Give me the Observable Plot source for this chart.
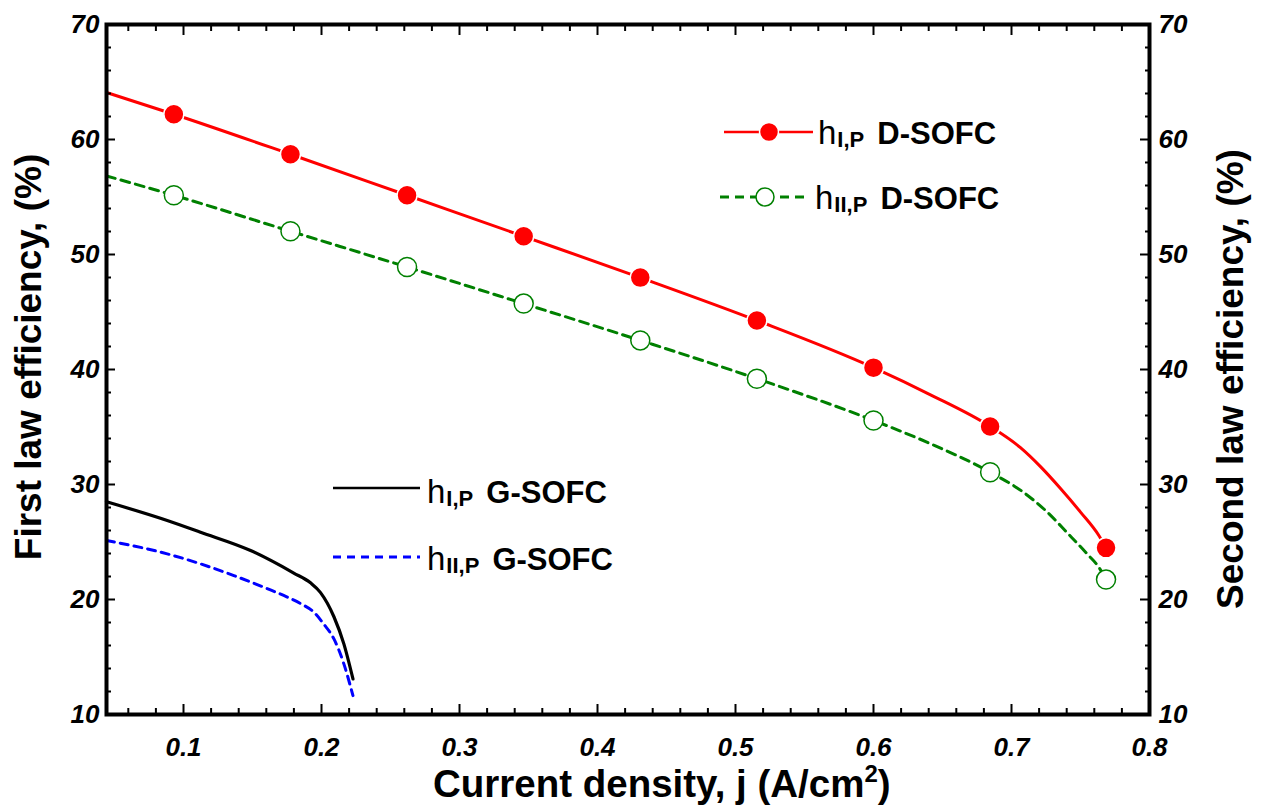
<!DOCTYPE html>
<html><head><meta charset="utf-8">
<script src="https://cdn.jsdelivr.net/npm/d3@7"></script>
<script src="https://cdn.jsdelivr.net/npm/@observablehq/plot@0.6"></script>
<style>body{margin:0;background:#fff}#chart{width:1265px;height:811px}</style>
</head><body><div id="chart"></div>
<script>
// ---- data ----
const xMin = 0.0442, xMax = 0.8;
const yMin = 10, yMax = 70;
const xTickLabels = [0.1, 0.2, 0.3, 0.4, 0.5, 0.6, 0.7, 0.8];
const yTickLabels = [10, 20, 30, 40, 50, 60, 70];

// D-SOFC marker points
const dMarkJ = [0.093, 0.1775, 0.262, 0.3465, 0.431, 0.5155, 0.600, 0.6845, 0.7685];
const dFirstMark = [62.2, 58.72, 55.15, 51.58, 47.99, 44.26, 40.16, 35.05, 24.49];
const dSecondMark = [55.15, 52.02, 48.91, 45.73, 42.53, 39.20, 35.57, 31.07, 21.73];

// D-SOFC curves
const dFirstJ = [0.0442, 0.093, 0.1775, 0.262, 0.3465, 0.431, 0.5155, 0.600, 0.6413, 0.6845, 0.7065, 0.721, 0.7355, 0.75, 0.7633, 0.7685];
const dFirstV = [64.09, 62.2, 58.72, 55.15, 51.58, 47.99, 44.26, 40.16, 37.8, 35.05, 33.2, 31.55, 29.65, 27.6, 25.56, 24.49];
const dSecondJ = [0.0442, 0.093, 0.1775, 0.262, 0.3465, 0.431, 0.5155, 0.600, 0.6413, 0.6845, 0.7089, 0.7259, 0.7404, 0.7549, 0.7633, 0.7685];
const dSecondV = [56.83, 55.15, 52.02, 48.91, 45.73, 42.53, 39.20, 35.57, 33.55, 31.07, 29.3, 27.6, 25.8, 23.95, 22.8, 21.73];

// G-SOFC curves
const gFirstJ = [0.0442, 0.0882, 0.1123, 0.1486, 0.1799, 0.192, 0.1993, 0.209, 0.2162, 0.2228];
const gFirstV = [28.5, 26.87, 25.85, 24.26, 22.3, 21.45, 20.6, 18.5, 16.14, 13.09];
const gSecondJ = [0.0442, 0.0882, 0.1123, 0.1365, 0.1606, 0.1726, 0.1848, 0.1944, 0.2017, 0.209, 0.2162, 0.2228];
const gSecondV = [25.13, 23.97, 23.1, 22.08, 20.95, 20.35, 19.65, 18.9, 17.85, 16.57, 14.4, 11.64];

// ---- build tables ----
const zipXY = (xs, ys) => xs.map((x, i) => ({j: x, v: ys[i]}));
const dFirstLine = zipXY(dFirstJ, dFirstV);
const dSecondLine = zipXY(dSecondJ, dSecondV);
const gFirstLine = zipXY(gFirstJ, gFirstV);
const gSecondLine = zipXY(gSecondJ, gSecondV);
const dFirstPts = zipXY(dMarkJ, dFirstMark);
const dSecondPts = zipXY(dMarkJ, dSecondMark);

const xMajor = d3.range(1, 9).map(k => k / 10);
const xMinor = d3.range(3, 40).map(k => k / 50).filter(v => Math.abs(v * 10 - Math.round(v * 10)) > 1e-6);
const yMajor = d3.range(10, 71, 10);
const yMinor = d3.range(10, 71, 2).filter(v => v % 10 !== 0);

const FONT = "'Liberation Sans', Arial, sans-serif";
const RED = "#ff0000", GREEN = "#008000", BLUE = "#0000ff";
const tickFont = {fontSize: 26, fontWeight: "bold", fontStyle: "italic"};

const plot = Plot.plot({
  width: 1265, height: 811,
  marginLeft: 106, marginRight: 116, marginTop: 24, marginBottom: 97,
  x: {domain: [xMin, xMax]},
  y: {domain: [yMin, yMax]},
  style: {fontFamily: FONT, background: "white", color: "black"},
  marks: [
    Plot.line(gFirstLine, {x: "j", y: "v", stroke: "black", strokeWidth: 3.2, curve: "monotone-x"}),
    Plot.line(gSecondLine, {x: "j", y: "v", stroke: BLUE, strokeWidth: 3, strokeDasharray: "8,6", curve: "monotone-x"}),
    Plot.line(dFirstLine, {x: "j", y: "v", stroke: RED, strokeWidth: 3, curve: "monotone-x"}),
    Plot.line(dSecondLine, {x: "j", y: "v", stroke: GREEN, strokeWidth: 3, strokeDasharray: "9,6", curve: "monotone-x"}),
    Plot.dot(dFirstPts, {x: "j", y: "v", r: 10, fill: RED, stroke: "white", strokeWidth: 1.5}),
    Plot.dot(dSecondPts, {x: "j", y: "v", r: 9.5, fill: "white", stroke: GREEN, strokeWidth: 1.5}),
    // ticks (inward)
    Plot.axisX(xMajor, {anchor: "bottom", tickSize: -10, fill: "none", label: null, strokeWidth: 2}),
    Plot.axisX(xMinor, {anchor: "bottom", tickSize: -6, fill: "none", label: null, strokeWidth: 2}),
    Plot.axisX(xMajor, {anchor: "top", tickSize: -10, fill: "none", label: null, strokeWidth: 2}),
    Plot.axisX(xMinor, {anchor: "top", tickSize: -6, fill: "none", label: null, strokeWidth: 2}),
    Plot.axisY(yMajor, {anchor: "left", tickSize: -9, fill: "none", label: null, strokeWidth: 2}),
    Plot.axisY(yMinor, {anchor: "left", tickSize: -5, fill: "none", label: null, strokeWidth: 2}),
    Plot.axisY(yMajor, {anchor: "right", tickSize: -10, fill: "none", label: null, strokeWidth: 2}),
    Plot.axisY(yMinor, {anchor: "right", tickSize: -5, fill: "none", label: null, strokeWidth: 2}),
    // tick labels
    Plot.axisX(xTickLabels, {anchor: "bottom", tickSize: 0, tickPadding: 23, label: null, tickFormat: d3.format(".1f"), ...tickFont}),
    Plot.axisY(yTickLabels, {anchor: "left", tickSize: 0, tickPadding: 7, label: null, tickFormat: d3.format("d"), ...tickFont}),
    Plot.axisY(yTickLabels, {anchor: "right", tickSize: 0, tickPadding: 9, label: null, tickFormat: d3.format("d"), ...tickFont}),
    Plot.frame({stroke: "black", strokeWidth: 4})
  ]
});
document.getElementById("chart").appendChild(plot);

// ---- axis titles and legend ----
const svg = d3.select(plot);
const titleSize = 37;
svg.append("text").attr("transform", "translate(41,357) rotate(-90)")
  .attr("text-anchor", "middle").attr("font-family", FONT).attr("font-weight", "bold")
  .attr("font-size", titleSize).attr("fill", "black").text("First law efficiency, (%)");
svg.append("text").attr("transform", "translate(1243,379) rotate(-90)")
  .attr("text-anchor", "middle").attr("font-family", FONT).attr("font-weight", "bold")
  .attr("font-size", titleSize).attr("fill", "black").text("Second law efficiency, (%)");
const xt = svg.append("text").attr("x", 433).attr("y", 797)
  .attr("text-anchor", "start").attr("font-family", FONT).attr("font-weight", "bold")
  .attr("font-size", 38.5).attr("fill", "black");
xt.append("tspan").text("Current density, j (A/cm");
xt.append("tspan").attr("font-size", 24).attr("dy", -15).text("2");
xt.append("tspan").attr("dy", 15).text(")");

const legend = svg.append("g").attr("text-anchor", "start");
function legendRow(r) {
  const line = legend.append("line").attr("x1", r.x1).attr("x2", r.x2).attr("y1", r.ly).attr("y2", r.ly)
    .attr("stroke", r.color).attr("stroke-width", r.dash ? 3 : 2.5);
  if (r.dash) line.attr("stroke-dasharray", r.dash);
  if (r.marker === "filled") {
    legend.append("circle").attr("cx", r.mx).attr("cy", r.ly).attr("r", 9.5).attr("fill", r.color).attr("stroke", "white").attr("stroke-width", 1.5);
  } else if (r.marker === "open") {
    legend.append("circle").attr("cx", r.mx).attr("cy", r.ly).attr("r", 9).attr("fill", "white").attr("stroke", r.color).attr("stroke-width", 1.5);
  }
  const t = legend.append("text").attr("x", r.tx).attr("y", r.ty).attr("text-anchor", "start")
    .attr("font-family", FONT).attr("fill", "black");
  t.append("tspan").attr("font-size", 33).attr("font-weight", "normal").text("h");
  t.append("tspan").attr("font-size", 22).attr("font-weight", "bold").attr("dx", 1).attr("dy", 3).text(r.sub);
  t.append("tspan").attr("font-size", 31).attr("font-weight", "bold").attr("dx", 13).attr("dy", -3).text(r.name);
}
legendRow({x1: 724, x2: 813, ly: 132, color: RED, marker: "filled", mx: 769, tx: 818, ty: 144, sub: "I,P", name: "D-SOFC"});
legendRow({x1: 720, x2: 808, ly: 197, color: GREEN, dash: "9,6", marker: "open", mx: 765, tx: 815, ty: 209, sub: "II,P", name: "D-SOFC"});
legendRow({x1: 333, x2: 420, ly: 488, color: "black", tx: 427, ty: 503, sub: "I,P", name: "G-SOFC"});
legendRow({x1: 333, x2: 420, ly: 557, color: BLUE, dash: "8,6", tx: 427, ty: 570, sub: "II,P", name: "G-SOFC"});
</script>
</body></html>
